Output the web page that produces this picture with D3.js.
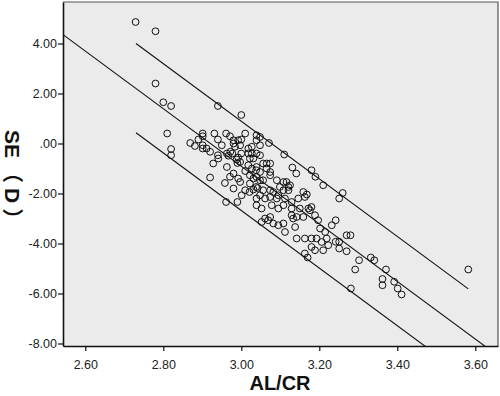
<!DOCTYPE html>
<html><head><meta charset="utf-8">
<script src="https://cdn.jsdelivr.net/npm/d3@7"></script>
<style>body{margin:0;background:#fff}svg{display:block}text{font-family:"Liberation Sans",Arial,"Noto Sans CJK SC",sans-serif}</style>
</head><body><div id="chart"></div>
<script>
const xTicks = [2.6, 2.8, 3.0, 3.2, 3.4, 3.6];
const xTickLabels = ["2.60", "2.80", "3.00", "3.20", "3.40", "3.60"];
const yTicks = [4, 2, 0, -2, -4, -6, -8];
const yTickLabels = ["4.00", "2.00", ".00", "-2.00", "-4.00", "-6.00", "-8.00"];
const xTitle = "AL/CR";
const yTitle = "SE（D）";

// observed points [AL/CR, SE]
const alcr = [2.729,2.780,2.780,2.800,2.820,2.810,2.820,2.820,2.940,3.000,
 2.869,2.881,2.890,2.901,2.901,2.901,2.901,2.911,2.920,2.931,2.940,2.961,2.971,2.950,2.980,2.992,2.980,2.984,3.000,2.997,3.010,2.963,2.972,2.967,2.977,2.988,2.997,2.990,3.000,2.992,2.928,2.941,2.963,2.980,2.971,2.920,2.992,2.997,2.980,2.958,3.018,3.027,3.027,3.018,3.022,3.031,3.018,3.027,3.038,3.022,3.031,3.022,3.038,2.940,3.010,
 2.961,2.990,3.001,3.010,3.021,3.031,
 3.039,3.048,3.039,3.048,3.039,3.048,3.039,3.056,3.065,3.074,3.065,3.074,3.048,3.039,3.048,3.056,3.074,3.091,3.108,3.116,3.125,3.071,3.110,3.131,3.141,3.180,3.190,3.210,
 3.042,3.056,3.074,3.082,3.099,3.108,3.121,3.121,3.039,3.048,3.061,3.074,3.091,3.095,3.112,3.129,3.146,3.159,3.163,3.168,
 3.039,3.052,3.078,3.095,3.108,3.129,3.150,3.172,3.180,3.176,3.129,3.133,3.142,3.159,3.189,3.061,3.069,3.074,3.082,3.095,3.108,3.052,3.138,3.197,3.202,3.232,3.215,3.219,3.223,3.206,3.193,3.180,3.163,3.142,3.112,3.180,3.189,3.210,3.163,
 3.260,3.251,
 3.242,3.242,3.251,3.251,3.270,3.280,3.270,3.302,3.292,3.281,3.332,3.341,3.371,3.362,3.362,3.392,3.401,3.411,3.582,3.170];
const se = [4.86,4.49,2.40,1.65,1.50,0.40,-0.22,-0.47,1.50,1.14,
 0.02,-0.10,0.16,0.40,0.29,-0.07,-0.20,-0.20,-0.33,0.40,0.16,0.40,0.29,-0.07,0.13,0.13,0.00,-0.13,0.16,-0.07,0.40,-0.40,-0.33,-0.49,-0.40,-0.64,-0.74,-0.78,-0.40,-0.56,-0.80,-0.60,-0.94,-1.20,-1.33,-1.36,-1.40,-1.54,-1.80,-1.58,-0.20,-0.13,-0.40,-0.40,-0.60,-0.60,-0.87,-1.00,-1.07,-1.27,-1.40,-1.60,-1.74,-0.47,-1.10,
 -2.34,-2.34,-2.07,-1.87,-1.94,-1.84,
 0.33,0.26,0.13,-0.07,-0.40,-0.47,-0.94,-0.80,-0.80,-0.80,-1.00,-1.14,-1.14,-1.34,-1.47,-1.47,-1.27,-1.47,-1.54,-1.54,-1.67,0.02,-0.44,-0.96,-1.20,-1.07,-1.33,-1.67,
 -1.78,-1.87,-1.87,-1.94,-1.74,-1.87,-1.74,-1.87,-2.20,-2.07,-2.20,-2.14,-2.20,-2.07,-2.20,-2.34,-2.20,-1.94,-2.14,-2.04,
 -2.47,-2.60,-2.47,-2.60,-2.47,-2.60,-2.60,-2.60,-2.54,-2.67,-2.87,-3.00,-2.94,-2.94,-2.87,-3.00,-3.07,-2.94,-3.20,-3.27,-3.20,-3.14,-3.34,-3.07,-3.40,-3.27,-3.54,-3.80,-4.07,-3.94,-3.80,-3.80,-3.80,-3.80,-3.54,-4.14,-4.27,-4.27,-4.40,
 -1.98,-2.20,
 -3.07,-3.93,-3.93,-4.20,-3.67,-3.67,-4.31,-4.67,-5.04,-5.80,-4.56,-4.67,-5.04,-5.42,-5.67,-5.53,-5.80,-6.04,-5.04,-4.56];

// fitted line and interval offsets
const fitIntercept = 33.65;
const fitSlope = -11.52;
const upperOffset = 1.80;
const lowerOffset = -1.77;
const dataXRange = [2.73, 3.582];

const W = 500, H = 396;
const L = 63, R = 498, T = 2, B = 346;
const x = d3.scaleLinear().domain([2.6 - 22.3/390, 2.6 + (R - 85.3)/390]).range([L, R]);
const y = d3.scaleLinear().domain([-(B - 143.5)/25, (143.5 - T)/25]).range([B, T]);

const svg = d3.select("#chart").append("svg").attr("width", W).attr("height", H);
svg.append("rect").attr("x", L).attr("y", T).attr("width", R - L).attr("height", B - T).attr("fill", "#ebebeb");
svg.append("defs").append("clipPath").attr("id", "clip").append("rect")
  .attr("x", L).attr("y", T).attr("width", R - L).attr("height", B - T);

const g = svg.append("g").attr("clip-path", "url(#clip)");
const line = d3.line().x(d => x(d[0])).y(d => y(d[1]));
const f = (v, off) => fitIntercept + off + fitSlope * v;
const xd = x.domain();
const segs = [
  [[xd[0], f(xd[0], 0)], [xd[1], f(xd[1], 0)]],
  [[dataXRange[0], f(dataXRange[0], upperOffset)], [dataXRange[1], f(dataXRange[1], upperOffset)]],
  [[dataXRange[0], f(dataXRange[0], lowerOffset)], [xd[1], f(xd[1], lowerOffset)]]
];
g.selectAll("path.fit").data(segs).enter().append("path").attr("class", "fit")
  .attr("d", line).attr("fill", "none").attr("stroke", "#111").attr("stroke-width", 1.1);

const pts = alcr.map((v, i) => [v, se[i]]);
g.selectAll("circle").data(pts).enter().append("circle")
  .attr("cx", d => x(d[0])).attr("cy", d => y(d[1])).attr("r", 3.4)
  .attr("fill", "none").attr("stroke", "#111").attr("stroke-width", 1);

// frame top/right
svg.append("path").attr("d", `M${L},${T}H${R}V${B}`).attr("fill", "none").attr("stroke", "#555").attr("stroke-width", 1.2);

const xAxis = d3.axisBottom(x).tickValues(xTicks).tickFormat((d, i) => xTickLabels[i]).tickSize(5).tickSizeOuter(0);
const gx = svg.append("g").attr("transform", `translate(0,${B})`).call(xAxis);
const yAxis = d3.axisLeft(y).tickValues(yTicks).tickFormat((d, i) => yTickLabels[i]).tickSize(5).tickSizeOuter(0);
const gy = svg.append("g").attr("transform", `translate(${L},0)`).call(yAxis);
[gx, gy].forEach(a => {
  a.select(".domain").attr("stroke", "#111").attr("stroke-width", 1.6);
  a.selectAll(".tick line").attr("stroke", "#111").attr("stroke-width", 1.2);
  a.selectAll(".tick text").attr("fill", "#222").style("font-size", "12.5px").style("font-family", '"Liberation Sans",Arial,sans-serif');
});
gx.selectAll(".tick text").attr("dy", "0.71em").attr("y", 14);
gy.selectAll(".tick text").attr("x", -6);

svg.append("text").attr("x", 280).attr("y", 390).attr("text-anchor", "middle")
  .style("font-size", "20px").style("font-weight", "bold").attr("fill", "#111").text(xTitle);
const yt = svg.append("text").attr("transform", "translate(5,130) rotate(90)").attr("text-anchor", "start")
  .style("font-size", "21px").style("font-weight", "bold")
  .style("font-family", '"Liberation Sans","Noto Sans CJK SC",sans-serif')
  .attr("fill", "#111");
yt.append("tspan").text(yTitle.slice(0, 2));
yt.append("tspan").attr("dx", 4).style("letter-spacing", "5px").text(yTitle.slice(2));
</script></body></html>
